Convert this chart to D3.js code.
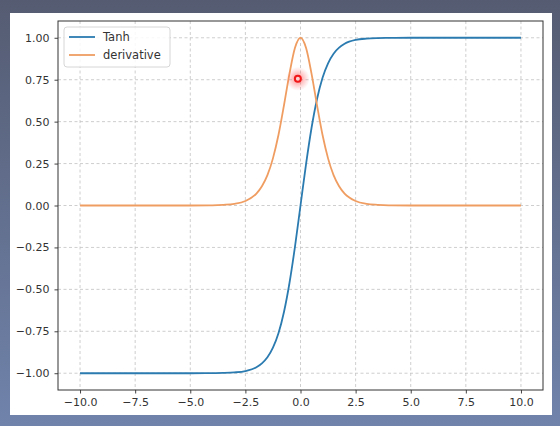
<!DOCTYPE html>
<html>
<head>
<meta charset="utf-8">
<script src="https://cdn.jsdelivr.net/npm/d3@7"></script>
<style>
  html, body { margin: 0; padding: 0; }
  svg { display: block; font-family: "DejaVu Sans", sans-serif; }
</style>
</head>
<body>
<svg width="560" height="426"></svg>
<script>
// values
const xs = [-10, -8, -6, -5, -4, -3.5, -3, -2.5, -2, -1.75, -1.5, -1.25, -1, -0.75, -0.5, -0.25,
  0, 0.25, 0.5, 0.75, 1, 1.25, 1.5, 1.75, 2, 2.5, 3, 3.5, 4, 5, 6, 8, 10];
const tanhVals = [-1, -1, -1, -1, -0.999, -0.998, -0.995, -0.987, -0.964, -0.941, -0.905, -0.848, -0.762, -0.635, -0.462, -0.245,
  0, 0.245, 0.462, 0.635, 0.762, 0.848, 0.905, 0.941, 0.964, 0.987, 0.995, 0.998, 0.999, 1, 1, 1, 1];
const derivVals = [0, 0, 0, 0, 0.001, 0.004, 0.01, 0.027, 0.071, 0.115, 0.181, 0.281, 0.42, 0.597, 0.786, 0.94,
  1, 0.94, 0.786, 0.597, 0.42, 0.281, 0.181, 0.115, 0.071, 0.027, 0.01, 0.004, 0.001, 0, 0, 0, 0];
const xTicks = [-10, -7.5, -5, -2.5, 0, 2.5, 5, 7.5, 10];
const yTicks = [-1, -0.75, -0.5, -0.25, 0, 0.25, 0.5, 0.75, 1];
const seriesNames = ['Tanh', 'derivative'];
const marker = [-0.12, 0.755];

const svg = d3.select('svg');
const W = +svg.attr('width');
const H = +svg.attr('height');

const defs = svg.append('defs');
const bg = defs.append('linearGradient').attr('id', 'bg').attr('x1', 0).attr('y1', 0).attr('x2', 0).attr('y2', 1);
bg.append('stop').attr('offset', '0%').attr('stop-color', '#555c72');
bg.append('stop').attr('offset', '100%').attr('stop-color', '#7083ab');
const glow = defs.append('radialGradient').attr('id', 'glow');
glow.append('stop').attr('offset', '0%').attr('stop-color', '#ff3030').attr('stop-opacity', 0.6);
glow.append('stop').attr('offset', '100%').attr('stop-color', '#ff6060').attr('stop-opacity', 0);

svg.append('rect').attr('width', W).attr('height', H).attr('fill', 'url(#bg)');
svg.append('rect').attr('x', 10).attr('y', 13).attr('width', 542).attr('height', 402).attr('fill', '#fff');

const axL = 58, axR = 543, axT = 21, axB = 390;
const x = d3.scaleLinear().domain([-11, 11]).range([axL, axR]);
const y = d3.scaleLinear().domain([-1.1, 1.1]).range([axB, axT]);

// grid
const grid = svg.append('g').attr('stroke', '#c2c2c2').attr('stroke-width', 0.8).attr('stroke-dasharray', '3,2.5');
grid.selectAll('.gx').data(xTicks).enter().append('line')
  .attr('x1', d => x(d)).attr('x2', d => x(d)).attr('y1', axT).attr('y2', axB);
grid.selectAll('.gy').data(yTicks).enter().append('line')
  .attr('y1', d => y(d)).attr('y2', d => y(d)).attr('x1', axL).attr('x2', axR);

// curves
const line = d3.line().x(d => x(d[0])).y(d => y(d[1])).curve(d3.curveMonotoneX);
svg.append('path').datum(xs.map((v, i) => [v, tanhVals[i]]))
  .attr('d', line).attr('fill', 'none').attr('stroke', '#2b7bb0').attr('stroke-width', 1.8);
svg.append('path').datum(xs.map((v, i) => [v, derivVals[i]]))
  .attr('d', line).attr('fill', 'none').attr('stroke', '#f09d62').attr('stroke-width', 1.8);

// axes
const fmtX = d => d3.format('.1f')(d).replace('-', '\u2212');
const fmtY = d => d3.format('.2f')(d).replace('-', '\u2212');
const xAxis = svg.append('g').attr('transform', `translate(0,${axB})`)
  .call(d3.axisBottom(x).tickValues(xTicks).tickFormat(fmtX).tickSize(3.5).tickPadding(5));
const yAxis = svg.append('g').attr('transform', `translate(${axL},0)`)
  .call(d3.axisLeft(y).tickValues(yTicks).tickFormat(fmtY).tickSize(3.5).tickPadding(5));
[xAxis, yAxis].forEach(g => {
  g.select('.domain').remove();
  g.selectAll('line').attr('stroke', '#444');
  g.selectAll('text').attr('fill', '#333').style('font-size', '11px').style('font-family', '"DejaVu Sans", sans-serif');
});
svg.append('rect').attr('x', axL).attr('y', axT).attr('width', axR - axL).attr('height', axB - axT)
  .attr('fill', 'none').attr('stroke', '#333').attr('stroke-width', 1);

// legend
const lg = svg.append('g');
lg.append('rect').attr('x', 64).attr('y', 27).attr('width', 106).attr('height', 40).attr('rx', 3)
  .attr('fill', '#fff').attr('fill-opacity', 0.85).attr('stroke', '#d6d6d6');
const colors = ['#2b7bb0', '#f09d62'];
seriesNames.forEach((name, i) => {
  const yy = 37 + i * 18;
  lg.append('line').attr('x1', 69).attr('x2', 95).attr('y1', yy).attr('y2', yy)
    .attr('stroke', colors[i]).attr('stroke-width', 1.8);
  lg.append('text').attr('x', 103).attr('y', yy + 4).text(name)
    .attr('fill', '#333').style('font-size', '11.5px');
});

// highlighted point
svg.append('circle').attr('cx', x(marker[0])).attr('cy', y(marker[1])).attr('r', 12).attr('fill', 'url(#glow)');
svg.append('circle').attr('cx', x(marker[0])).attr('cy', y(marker[1])).attr('r', 3)
  .attr('fill', '#ffd0d0').attr('stroke', '#f01818').attr('stroke-width', 2);
</script>
</body>
</html>
